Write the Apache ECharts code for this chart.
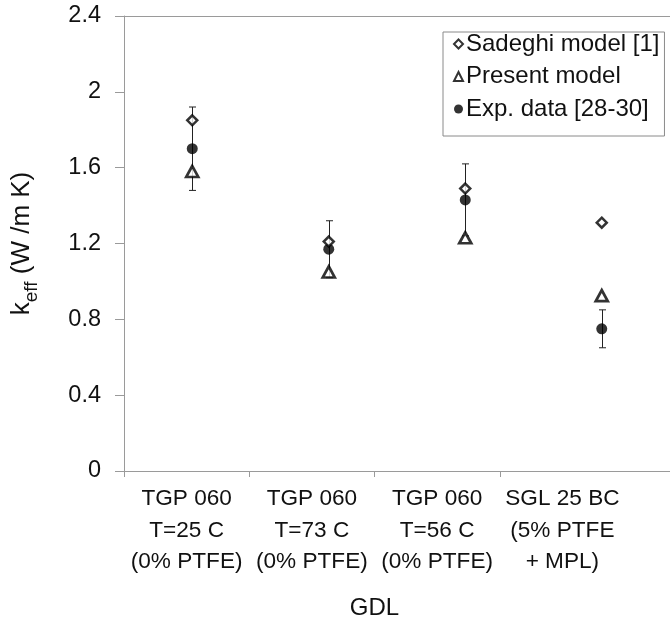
<!DOCTYPE html>
<html>
<head>
<meta charset="utf-8">
<script src="https://cdn.jsdelivr.net/npm/echarts@6/dist/echarts.min.js"></script>
<style>
  html, body { margin: 0; padding: 0; background: #fff; }
  #chart { width: 670px; height: 625px; }
</style>
</head>
<body>
<div id="chart"></div>
<script>
// GDL samples
var categories = [
  'TGP 060\nT=25 C\n(0% PTFE)',
  'TGP 060\nT=73 C\n(0% PTFE)',
  'TGP 060\nT=56 C\n(0% PTFE)',
  'SGL 25 BC\n(5% PTFE\n+ MPL)'
];
// effective thermal conductivity, W/m K
var sadeghiModel = [1.85, 1.21, 1.49, 1.31];
var presentModel = [1.58, 1.05, 1.23, 0.925];
var expData      = [1.70, 1.17, 1.43, 0.75];
var expError     = [0.22, 0.15, 0.19, 0.10];

var yTicks = { min: 0, max: 2.4, step: 0.4 };

var FONT = '"Liberation Sans", Arial, sans-serif';
var AXIS_GREY = '#9a9a9a';
var INK = '#111';

var errData = expData.map(function (v, i) {
  return [i, v - expError[i], v + expError[i]];
});

var chart = echarts.init(document.getElementById('chart'), null, { renderer: 'canvas' });

chart.setOption({
  animation: false,
  backgroundColor: '#fff',
  textStyle: { fontFamily: FONT },
  grid: [
    // plotting area for the markers
    { left: 124, right: 0, top: 16, bottom: 154 },
    // frame carrying the category labels
    { left: 124, right: 45, top: 16, bottom: 154 },
    // frame carrying the category separator ticks
    { left: 124, right: 170, top: 16, bottom: 154 }
  ],
  xAxis: [
    {
      type: 'category', gridIndex: 0, data: categories, boundaryGap: true,
      axisLine: { show: true, lineStyle: { color: AXIS_GREY, width: 1 } },
      axisTick: { show: false }, axisLabel: { show: false }, splitLine: { show: false }
    },
    {
      type: 'category', gridIndex: 0, position: 'top', data: categories,
      axisLine: { show: true, onZero: false, lineStyle: { color: AXIS_GREY, width: 1 } },
      axisTick: { show: false }, axisLabel: { show: false }, splitLine: { show: false }
    },
    {
      type: 'category', gridIndex: 1, data: categories, boundaryGap: true,
      axisLine: { show: false },
      axisTick: { show: false },
      axisLabel: {
        show: true, interval: 0, color: INK, fontSize: 22.6, lineHeight: 31.7, margin: 13,
        fontFamily: FONT, align: 'center'
      },
      name: 'GDL', nameLocation: 'middle', nameGap: 126,
      nameTextStyle: { fontSize: 24, color: INK, fontFamily: FONT }
    },
    {
      type: 'value', gridIndex: 2, min: 0, max: 3, interval: 1,
      axisLine: { show: false },
      axisTick: { show: true, length: 6, lineStyle: { color: AXIS_GREY } },
      axisLabel: { show: false }, splitLine: { show: false }
    }
  ],
  yAxis: [
    {
      type: 'value', gridIndex: 0,
      min: yTicks.min, max: yTicks.max, interval: yTicks.step,
      axisLine: { show: true, lineStyle: { color: AXIS_GREY, width: 1 } },
      axisTick: { show: true, inside: false, length: 9, lineStyle: { color: AXIS_GREY } },
      splitLine: { show: false },
      axisLabel: {
        color: INK, fontSize: 23.5, margin: 23, fontFamily: FONT,
        formatter: function (v) { return String(Math.round(v * 10) / 10); }
      },
      name: '{k|k}{sub|eff}{k| (W /m K)}',
      nameLocation: 'middle', nameGap: 87, nameRotate: 90,
      nameTextStyle: {
        fontFamily: FONT, color: INK,
        rich: {
          k: { fontSize: 26, color: INK, fontFamily: FONT, lineHeight: 30 },
          sub: { fontSize: 19, color: INK, fontFamily: FONT, lineHeight: 30, verticalAlign: 'bottom', padding: [0, 0, -4, 0] }
        }
      }
    },
    { type: 'value', gridIndex: 1, min: yTicks.min, max: yTicks.max, show: false },
    { type: 'value', gridIndex: 2, min: yTicks.min, max: yTicks.max, show: false }
  ],
  legend: {
    data: ['Sadeghi model [1]', 'Present model', 'Exp. data [28-30]'],
    orient: 'vertical',
    left: 443, top: 32,
    padding: [0, 5, 15, 10],
    itemGap: 8.5,
    itemWidth: 9, itemHeight: 9,
    borderColor: '#8a8a8a', borderWidth: 1,
    backgroundColor: '#fff',
    textStyle: { fontSize: 24, color: INK, fontFamily: FONT, padding: [0, 0, 0, -2] }
  },
  series: [
    {
      name: 'error',
      type: 'custom',
      xAxisIndex: 0, yAxisIndex: 0,
      data: errData,
      z: 1,
      renderItem: function (params, api) {
        var lo = api.coord([api.value(0), api.value(1)]);
        var hi = api.coord([api.value(0), api.value(2)]);
        var x = Math.round(lo[0]) + 0.5;
        var cap = 3.5;
        var style = { stroke: '#222', lineWidth: 1 };
        return {
          type: 'group',
          children: [
            { type: 'line', shape: { x1: x, y1: lo[1], x2: x, y2: hi[1] }, style: style },
            { type: 'line', shape: { x1: x - cap, y1: lo[1], x2: x + cap, y2: lo[1] }, style: style },
            { type: 'line', shape: { x1: x - cap, y1: hi[1], x2: x + cap, y2: hi[1] }, style: style }
          ]
        };
      }
    },
    {
      name: 'Exp. data [28-30]',
      type: 'scatter', xAxisIndex: 0, yAxisIndex: 0,
      data: expData,
      symbol: 'circle', symbolSize: 11,
      itemStyle: { color: '#000', borderColor: '#000', borderWidth: 0 },
      z: 3
    },
    {
      name: 'Present model',
      type: 'scatter', xAxisIndex: 0, yAxisIndex: 0,
      data: presentModel,
      symbol: 'triangle', symbolSize: [12, 11],
      itemStyle: { color: '#fff', borderColor: '#000', borderWidth: 2.7 },
      z: 4
    },
    {
      name: 'Sadeghi model [1]',
      type: 'scatter', xAxisIndex: 0, yAxisIndex: 0,
      data: sadeghiModel,
      symbol: 'diamond', symbolSize: 10,
      itemStyle: { color: '#fff', borderColor: '#000', borderWidth: 2.5 },
      z: 5
    }
  ]
});
</script>
</body>
</html>
